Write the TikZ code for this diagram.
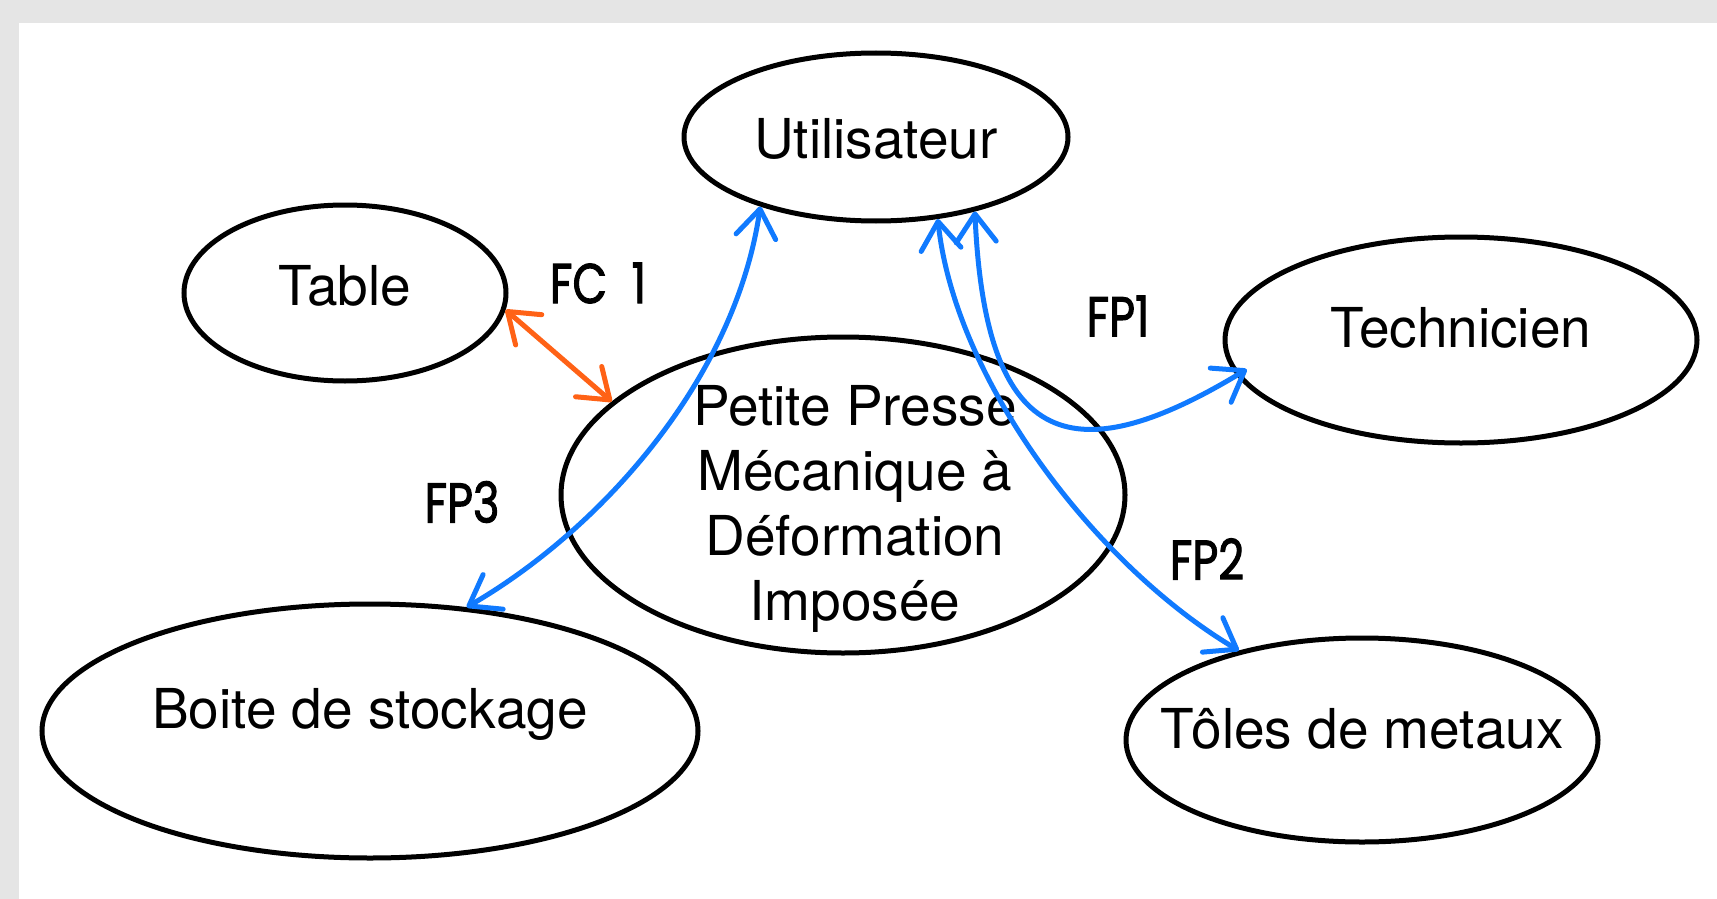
\documentclass[tikz,border=0pt]{standalone}
\usepackage{fontspec}
\usepackage{graphicx}
\setmainfont{TeX Gyre Heros}
\newfontfamily\handfont{Poppins}[FakeBold=2]
\usetikzlibrary{arrows.meta,shapes.geometric}
\definecolor{fpblue}{RGB}{16,122,255}
\definecolor{fcorange}{RGB}{255,98,22}
\definecolor{framegrey}{RGB}{229,229,229}
\newcommand\bubtext[2]{\makebox[0pt]{\smash{\raisebox{#1}{#2}}}}
\newcommand\handlbl[1]{\scalebox{0.8}[1]{#1}}
\begin{document}
\begin{tikzpicture}[x=1pt,y=-1pt,
  bub/.style={draw=black, line width=5pt, ellipse, inner sep=0pt, fill=white,
    font=\fontsize{55}{65}\selectfont},
  lab/.style={inner sep=0pt, font=\handfont\fontsize{56}{60}\selectfont},
  tipb/.tip={Straight Barb[length=28pt,width=40pt,round]},
  fp/.style={draw=fpblue, line width=5pt, line cap=round, tipb-tipb},
  fc/.style={draw=fcorange, line width=5pt, line cap=round, tipb-tipb}
]
\useasboundingbox (0,0) rectangle (1717,899);
\fill[white] (0,0) rectangle (1717,899);
\fill[framegrey] (0,0) rectangle (1717,23);
\fill[framegrey] (0,0) rectangle (19,899);

% bubbles
\node[bub, minimum width=384pt, minimum height=168pt] (util) at (876,137)
  {\bubtext{-21pt}{Utilisateur}};
\node[bub, minimum width=322pt, minimum height=176pt] (table) at (345,293)
  {\bubtext{-12pt}{Table}};
\node[bub, minimum width=472pt, minimum height=206pt] (tech) at (1461,340)
  {\bubtext{-7pt}{Technicien}};
\node[bub, minimum width=564pt, minimum height=316pt, fill=none] (press) at (843,495)
  {\bubtext{70pt}{\hspace{24pt}\begin{tabular}[t]{@{}c@{}}Petite Presse\\M\'ecanique \`a\\D\'eformation\\Impos\'ee\end{tabular}}};
\node[bub, minimum width=656pt, minimum height=254pt] (boite) at (370,731)
  {\bubtext{3pt}{Boite de stockage}};
\node[bub, minimum width=472pt, minimum height=204pt] (toles) at (1362,740)
  {\bubtext{-8pt}{T\^oles de metaux}};

% labels
\node[lab] (lfc1) at (598,283) {\handlbl{FC\hspace{0.55em}1}};
\node[lab] (lfp1) at (1118,316) {\handlbl{FP1}};
\node[lab] (lfp3) at (462,502) {\handlbl{FP3}};
\node[lab] (lfp2) at (1207,559) {\handlbl{FP2}};

% connectors
\draw[fc] (table.-6.9) -- (press.158.5);
\draw[fp] (util.211.5) .. controls (735,380) and (600,530) .. (boite.52);
\draw[fp] (util.-53.7) .. controls (955,380) and (1095,565) .. (toles.144.6);
\draw[fp, shorten >=-12pt] (util.-37.1) .. controls (985,440) and (1065,480) .. (tech.189.8);
\end{tikzpicture}
\end{document}
